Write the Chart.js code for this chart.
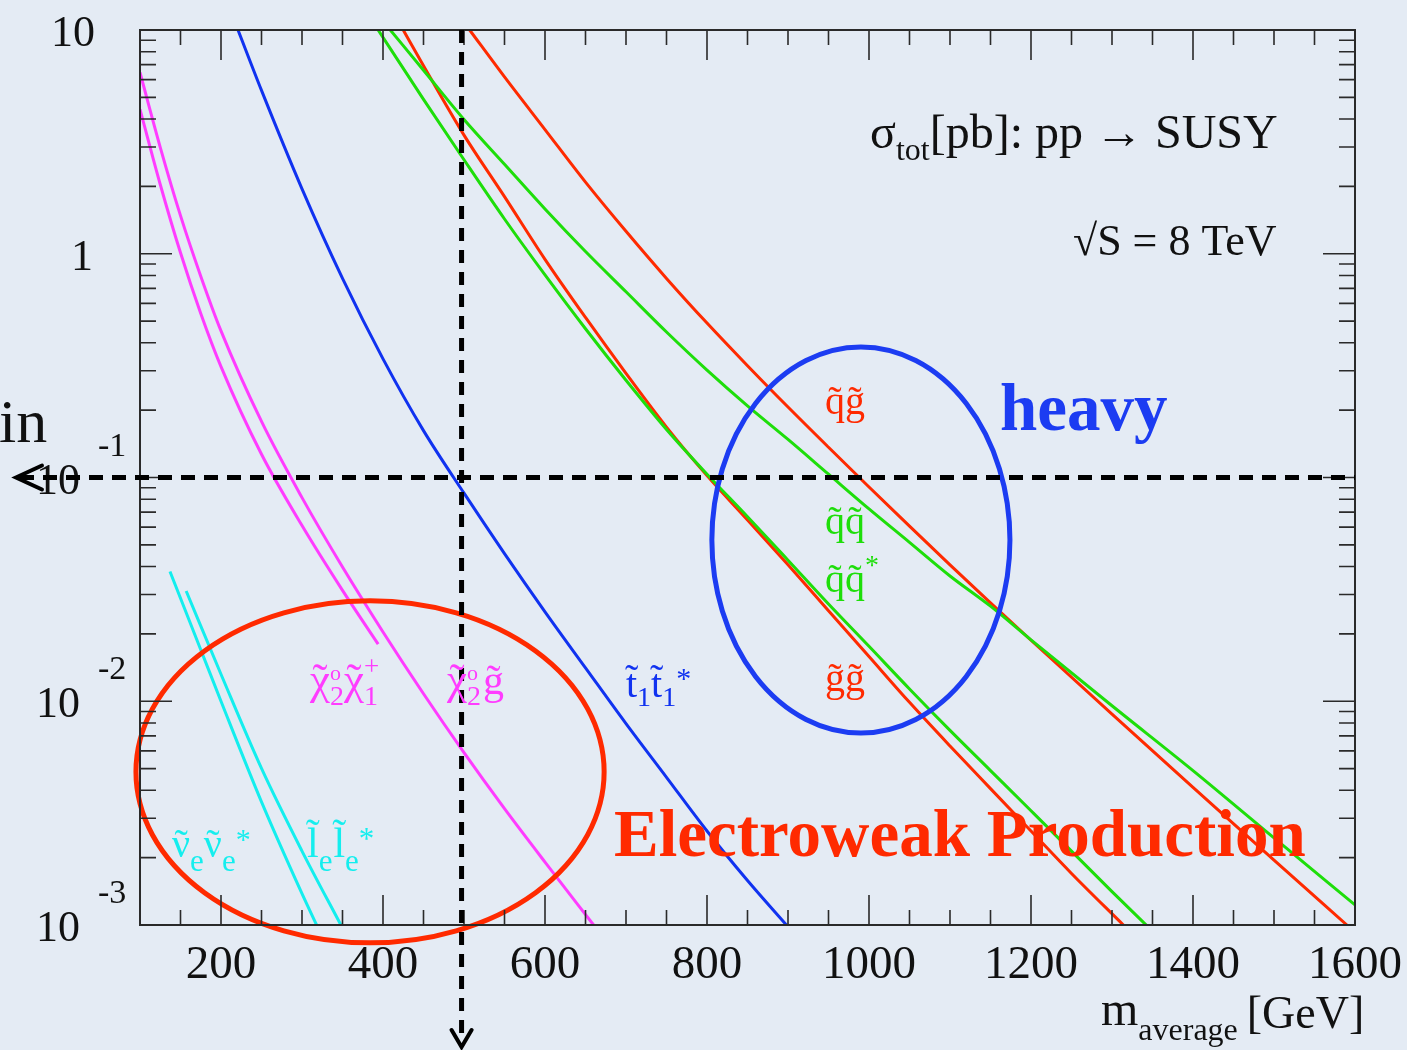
<!DOCTYPE html>
<html>
<head>
<meta charset="utf-8">
<script src="https://cdn.jsdelivr.net/npm/chart.js@4.4.1/dist/chart.umd.min.js"></script>
<style>
  html,body{margin:0;padding:0;background:#e4ebf4;}
  canvas{display:block;}
</style>
</head>
<body>
<canvas id="c" width="1407" height="1050"></canvas>
<script>
// ---------------- DATA (sigma_tot in pb vs m_average in GeV) ----------------
const MASS_CHI2G   = [100,125,150,175,200,250,300,350,400,450,500,550,600,660];
const SIG_CHI2G    = [6.46,2.99,1.48,0.794,0.452,0.178,0.0813,0.0398,0.0204,0.0108,0.00589,0.00331,0.00191,0.00100];

const MASS_CHI2CHI1 = [100,125,150,175,200,250,300,350,394];
const SIG_CHI2CHI1  = [4.42,2.04,1.01,0.541,0.313,0.127,0.0610,0.0313,0.0180];

const MASS_SNU = [137,175,200,250,300,318];
const SIG_SNU  = [0.0380,0.0170,0.0100,0.00355,0.00138,0.00100];

const MASS_SEL = [157,200,250,300,348];
const SIG_SEL  = [0.0311,0.0132,0.00501,0.00214,0.00100];

const MASS_STOP = [221,250,300,350,400,450,500,550,600,650,700,750,800,850,898];
const SIG_STOP  = [10,5.37,1.95,0.776,0.339,0.162,0.0851,0.0457,0.0251,0.0141,0.00794,0.00457,0.00263,0.00158,0.00100];

const MASS_SQGL = [507,550,600,650,700,750,800,850,900,950,1000,1050,1100,1150,1200,1300,1400,1500,1590];
const SIG_SQGL  = [10,6.17,3.59,2.09,1.26,0.776,0.490,0.316,0.2065,0.1365,0.0907,0.0606,0.0407,0.0275,0.01873,0.00876,0.00412,0.00195,0.00100];

const MASS_SQSQ = [409,450,500,550,600,650,700,750,800,850,900,950,1000,1050,1100,1150,1200,1300,1400,1500,1600];
const SIG_SQSQ  = [10,6.61,3.98,2.51,1.585,1.023,0.676,0.447,0.302,0.209,0.148,0.1035,0.0724,0.0513,0.0363,0.0266,0.0188,0.00955,0.00490,0.00245,0.00123];

const MASS_SQSQB = [394,450,500,550,600,650,700,750,800,850,900,950,1000,1050,1100,1150,1200,1250,1300,1345];
const SIG_SQSQB  = [10,4.90,2.63,1.43,0.804,0.462,0.272,0.164,0.1035,0.0668,0.0427,0.0272,0.0176,0.01135,0.00741,0.00490,0.00324,0.00214,0.00141,0.000977];

const MASS_GLGL = [425,450,500,550,600,650,700,750,800,850,900,950,1000,1050,1100,1150,1200,1250,1314];
const SIG_GLGL  = [10,6.92,3.39,1.80,0.944,0.519,0.292,0.168,0.102,0.0646,0.0407,0.0254,0.01585,0.00989,0.00631,0.00407,0.00263,0.00170,0.00100];

// axis ticks
const X_MAJOR = [200,400,600,800,1000,1200,1400,1600];
const X_LABELS = ['200','400','600','800','1000','1200','1400','1600'];
const X_MINOR = [150,250,300,350,450,500,550,650,700,750,850,900,950,1050,1100,1150,1250,1300,1350,1450,1500,1550];
const Y_DECADES = [0.001,0.01,0.1,1,10];
const Y_EXP = ['-3','-2','-1','0','1'];
const Y_MINOR_MULT = [2,3,4,5,6,7,8,9];

// reference lines / highlighted regions (data units)
const H_LINE_SIGMA = 0.1;
const V_LINE_MASS = 497;
const BLUE_REGION = {m0:806, m1:1174, s0:0.00721, s1:0.383};
const RED_REGION  = {m0:95,  m1:673,  s0:0.000832, s1:0.0281};

// ---------------- STYLE ----------------
const BG = '#e4ebf4';
const C = {
  magenta:'#ff3cff', cyan:'#14eeee', blue:'#1032f0', red:'#ff2a00',
  green:'#1ede0a', blueEll:'#1c3cf2', redEll:'#ff2a00', ink:'#111111', axis:'#2a2a2a'
};
const SERIF = '"Liberation Serif", "Times New Roman", serif';

function pts(ms, ss){ return ms.map((m,i)=>({x:m, y:ss[i]})); }
function ds(ms, ss, color){
  return {data:pts(ms,ss), borderColor:color, borderWidth:3, pointRadius:0,
          fill:false, cubicInterpolationMode:'monotone', showLine:true};
}

function drawRich(ctx, x, y, parts, color){
  ctx.fillStyle = color;
  ctx.textAlign = 'left';
  ctx.textBaseline = 'alphabetic';
  let cx = x, hold = 0;
  for (const p of parts){
    ctx.font = (p.b ? 'bold ' : '') + p.s + 'px ' + SERIF;
    const w = ctx.measureText(p.t).width;
    const yy = y + (p.dy || 0);
    ctx.fillText(p.t, cx, yy);
    if (p.tilde){
      const tw = ctx.measureText('\u02DC').width;
      ctx.fillText('\u02DC', cx + (w - tw)/2 + (p.tdx||0), yy + (p.tdy || 0));
    }
    if (p.hold){ hold = Math.max(hold, w); continue; }
    cx += Math.max(w, hold) + (p.kern||0);
    hold = 0;
  }
  return cx;
}

const deco = {
  id:'deco',
  beforeDraw(chart){
    const ctx = chart.ctx;
    ctx.save();
    ctx.fillStyle = BG;
    ctx.fillRect(0,0,chart.width,chart.height);
    ctx.restore();
  },
  afterDatasetsDraw(chart){
    const ctx = chart.ctx;
    const xs = chart.scales.x, ys = chart.scales.y;
    const X = v => xs.getPixelForValue(v);
    const Y = v => ys.getPixelForValue(v);
    const a = chart.chartArea;
    ctx.save();

    // ellipses
    function ellipse(r, color){
      const x0 = X(r.m0), x1 = X(r.m1), y0 = Y(r.s0), y1 = Y(r.s1);
      ctx.beginPath();
      ctx.ellipse((x0+x1)/2, (y0+y1)/2, Math.abs(x1-x0)/2, Math.abs(y0-y1)/2, 0, 0, Math.PI*2);
      ctx.strokeStyle = color; ctx.lineWidth = 5; ctx.stroke();
    }
    ellipse(BLUE_REGION, C.blueEll);
    ellipse(RED_REGION, C.redEll);

    // frame
    ctx.strokeStyle = C.axis; ctx.lineWidth = 2;
    ctx.strokeRect(a.left, a.top, a.right-a.left, a.bottom-a.top);

    // ticks
    ctx.lineWidth = 1.6;
    ctx.beginPath();
    const xt = (m, len) => {
      const px = X(m);
      ctx.moveTo(px, a.bottom); ctx.lineTo(px, a.bottom-len);
      ctx.moveTo(px, a.top); ctx.lineTo(px, a.top+len);
    };
    X_MAJOR.forEach(m => xt(m, 30));
    X_MINOR.forEach(m => xt(m, 15));
    const yt = (v, len) => {
      const py = Y(v);
      ctx.moveTo(a.left, py); ctx.lineTo(a.left+len, py);
      ctx.moveTo(a.right, py); ctx.lineTo(a.right-len, py);
    };
    Y_DECADES.forEach(v => yt(v, 32));
    Y_DECADES.slice(0,4).forEach(d => Y_MINOR_MULT.forEach(k => yt(d*k, 16)));
    ctx.stroke();

    // x tick labels
    ctx.fillStyle = C.ink;
    ctx.font = '47px ' + SERIF;
    ctx.textAlign = 'center'; ctx.textBaseline = 'alphabetic';
    X_MAJOR.forEach((m,i) => ctx.fillText(X_LABELS[i], X(m), 978));

    // y tick labels
    Y_DECADES.forEach((v,i) => {
      const py = Y(v), e = Y_EXP[i];
      ctx.textAlign = 'right';
      ctx.font = '44px ' + SERIF;
      if (e === '1') ctx.fillText('10', 95, py + 16);
      else if (e === '0') ctx.fillText('1', 93, py + 16);
      else {
        ctx.fillText('10', 80, py + 16);
        ctx.textAlign = 'left';
        ctx.font = '34px ' + SERIF;
        ctx.fillText(e, 98, py - 22);
      }
    });

    // dashed reference lines
    ctx.strokeStyle = '#000'; ctx.lineWidth = 5;
    ctx.setLineDash([14, 9]);
    const hy = Y(H_LINE_SIGMA), vx = X(V_LINE_MASS);
    ctx.beginPath(); ctx.moveTo(20, hy); ctx.lineTo(a.right, hy); ctx.stroke();
    ctx.setLineDash([13, 9]);
    ctx.beginPath(); ctx.moveTo(vx, a.top); ctx.lineTo(vx, 1040); ctx.stroke();
    ctx.setLineDash([]);
    ctx.lineWidth = 4; ctx.lineCap = 'round';
    ctx.beginPath(); ctx.moveTo(42, hy-12); ctx.lineTo(16, hy); ctx.lineTo(42, hy+12); ctx.stroke();
    ctx.beginPath(); ctx.moveTo(vx-10, 1030); ctx.lineTo(vx, 1047); ctx.lineTo(vx+10, 1030); ctx.stroke();
    ctx.lineCap = 'butt';

    // header texts
    drawRich(ctx, 870, 148, [
      {t:'\u03C3', s:48}, {t:'tot', s:32, dy:12}, {t:'[pb]: pp \u2192 SUSY', s:48}
    ], C.ink);
    drawRich(ctx, 1073, 255, [{t:'\u221AS = 8 TeV', s:44}], C.ink);

    // x axis title
    drawRich(ctx, 1101, 1025, [{t:'m', s:48}, {t:'average', s:32, dy:15, kern:9}, {t:'[GeV]', s:46, dy:3}], C.ink);

    // cut-off slide word
    drawRich(ctx, -1, 442, [{t:'in', s:62}], C.ink);

    // big labels
    drawRich(ctx, 1000, 430, [{t:'heavy', s:67, b:true}], C.blueEll);
    drawRich(ctx, 614, 856, [{t:'Electroweak Production', s:67, b:true}], C.redEll);

    // particle labels
    const L = 40;
    drawRich(ctx, 825, 414, [{t:'q', s:L, tilde:true}, {t:'g', s:L, tilde:true}], C.red);
    drawRich(ctx, 825, 534, [{t:'q', s:L, tilde:true}, {t:'q', s:L, tilde:true}], C.green);
    drawRich(ctx, 825, 592, [{t:'q', s:L, tilde:true}, {t:'q', s:L, tilde:true}, {t:'*', s:28, dy:-18}], C.green);
    drawRich(ctx, 825, 691, [{t:'g', s:L, tilde:true}, {t:'g', s:L, tilde:true}], C.red);
    drawRich(ctx, 626, 697, [
      {t:'t', s:L, tilde:true, tdy:-5}, {t:'1', s:28, dy:9},
      {t:'t', s:L, tilde:true, tdy:-5}, {t:'1', s:28, dy:9}, {t:'*', s:30, dy:-9, kern:0}
    ], C.blue);
    drawRich(ctx, 310, 694, [
      {t:'\u03C7', s:45, tilde:true}, {t:'o', s:22, dy:-14, hold:true}, {t:'2', s:28, dy:11},
      {t:'\u03C7', s:45, tilde:true}, {t:'+', s:27, dy:-19, hold:true}, {t:'1', s:28, dy:11}
    ], C.magenta);
    drawRich(ctx, 447, 694, [
      {t:'\u03C7', s:45, tilde:true}, {t:'o', s:22, dy:-14, hold:true}, {t:'2', s:28, dy:11, kern:2},
      {t:'g', s:42, tilde:true}
    ], C.magenta);
    drawRich(ctx, 172, 857, [
      {t:'\u03BD', s:L, tilde:true}, {t:'e', s:31, dy:14},
      {t:'\u03BD', s:L, tilde:true}, {t:'e', s:31, dy:14}, {t:'*', s:30, dy:-8}
    ], C.cyan);
    drawRich(ctx, 307, 857, [
      {t:'l', s:42, tilde:true, tdy:-9}, {t:'e', s:31, dy:14, kern:1},
      {t:'l', s:42, tilde:true, tdy:-9}, {t:'e', s:31, dy:14}, {t:'*', s:31, dy:-8}
    ], C.cyan);

    ctx.restore();
  }
};

new Chart(document.getElementById('c'), {
  type:'line',
  data:{
    datasets:[
      ds(MASS_SNU, SIG_SNU, C.cyan),
      ds(MASS_SEL, SIG_SEL, C.cyan),
      ds(MASS_CHI2CHI1, SIG_CHI2CHI1, C.magenta),
      ds(MASS_CHI2G, SIG_CHI2G, C.magenta),
      ds(MASS_STOP, SIG_STOP, C.blue),
      ds(MASS_SQSQB, SIG_SQSQB, C.green),
      ds(MASS_SQSQ, SIG_SQSQ, C.green),
      ds(MASS_GLGL, SIG_GLGL, C.red),
      ds(MASS_SQGL, SIG_SQGL, C.red)
    ]
  },
  options:{
    responsive:false,
    devicePixelRatio:1,
    animation:false,
    parsing:true,
    layout:{padding:{left:140, right:52, top:30, bottom:125}},
    scales:{
      x:{type:'linear', min:100, max:1600, display:false},
      y:{type:'logarithmic', min:0.001, max:10, display:false}
    },
    plugins:{legend:{display:false}, tooltip:{enabled:false}, title:{display:false}},
    events:[]
  },
  plugins:[deco]
});
</script>
</body>
</html>
